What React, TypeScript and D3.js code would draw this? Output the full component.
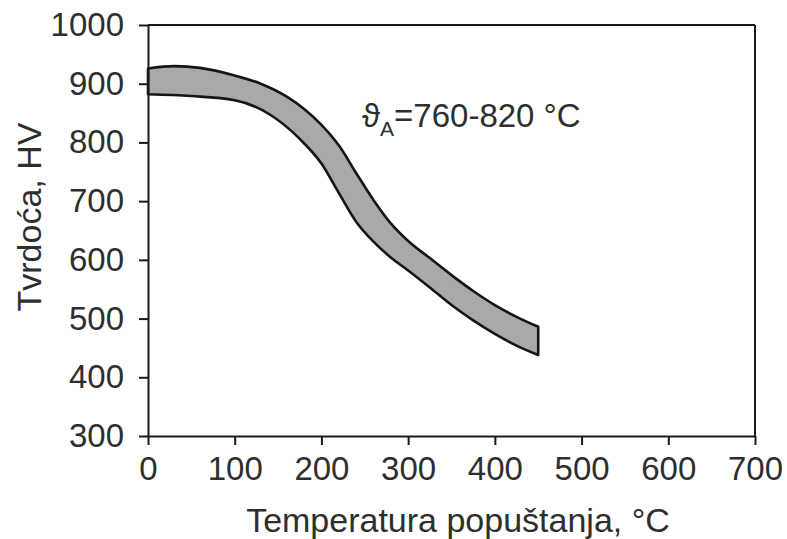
import React, { useEffect, useRef } from 'react';
import * as d3 from 'd3';

// Tempering temperature (°C) and hardness band limits (HV)
const upperTemp = [0, 30, 60, 100, 130, 160, 180, 200, 220, 240, 260, 280, 300, 325, 350, 375, 400, 425, 450];
const upperHV = [926, 930, 927, 914, 900, 878, 857, 830, 795, 748, 702, 662, 632, 603, 574, 547, 523, 503, 486];
const lowerTemp = [0, 50, 100, 140, 175, 200, 220, 240, 260, 280, 300, 325, 350, 375, 400, 425, 450];
const lowerHV = [882, 879, 872, 848, 806, 764, 714, 665, 631, 604, 582, 553, 523, 497, 474, 454, 438];

const xTicks = [0, 100, 200, 300, 400, 500, 600, 700];
const yTicks = [300, 400, 500, 600, 700, 800, 900, 1000];

const W = 787;
const H = 539;
const margin = { top: 25, right: 32, bottom: 103, left: 148 };
const FONT = 'Liberation Sans, Arial, Helvetica, sans-serif';

export default function App() {
  const svgRef = useRef<SVGSVGElement>(null);

  useEffect(() => {
    document.body.style.margin = '0';
    if (!svgRef.current) return;
    const svg = d3.select(svgRef.current);
    svg.selectAll('*').remove();

    const width = W - margin.left - margin.right;
    const height = H - margin.top - margin.bottom;

    const x = d3.scaleLinear().domain([0, 700]).range([0, width]);
    const y = d3.scaleLinear().domain([300, 1000]).range([height, 0]);

    const g = svg.append('g').attr('transform', `translate(${margin.left},${margin.top})`);

    // band: upper curve forward, lower curve back
    const upperPts = upperTemp.map((t, i) => [x(t), y(upperHV[i])] as [number, number]);
    const lowerPts = lowerTemp.map((t, i) => [x(t), y(lowerHV[i])] as [number, number]);
    const line = d3.line().curve(d3.curveMonotoneX);
    const upperPath = line(upperPts) || '';
    const lowerRev = line(lowerPts.slice().reverse()) || '';
    const bandPath = upperPath + 'L' + lowerRev.slice(1) + 'Z';

    g.append('path')
      .attr('d', bandPath)
      .attr('fill', '#a9a9a9')
      .attr('stroke', '#151515')
      .attr('stroke-width', 2.6)
      .attr('stroke-linejoin', 'round');

    // frame top & right
    g.append('line').attr('x1', 0).attr('x2', width).attr('y1', 0).attr('y2', 0)
      .attr('stroke', '#1a1a1a').attr('stroke-width', 2);
    g.append('line').attr('x1', width).attr('x2', width).attr('y1', 0).attr('y2', height)
      .attr('stroke', '#1a1a1a').attr('stroke-width', 2);

    const xAxis = d3.axisBottom(x).tickValues(xTicks).tickSize(9).tickSizeOuter(0).tickPadding(12).tickFormat(d => `${d}`);
    const yAxis = d3.axisLeft(y).tickValues(yTicks).tickSize(9).tickSizeOuter(0).tickPadding(15).tickFormat(d => `${d}`);

    const gx = g.append('g').attr('transform', `translate(0,${height})`).call(xAxis);
    const gy = g.append('g').call(yAxis);

    [gx, gy].forEach(ax => {
      ax.select('.domain').attr('stroke', '#1a1a1a').attr('stroke-width', 2);
      ax.selectAll('.tick line').attr('stroke', '#1a1a1a').attr('stroke-width', 2);
      ax.selectAll('.tick text')
        .attr('fill', '#2e2e2e')
        .style('font-family', FONT)
        .style('font-size', '33px');
    });

    // axis titles
    svg.append('text')
      .attr('x', 458)
      .attr('y', 532)
      .attr('text-anchor', 'middle')
      .attr('fill', '#2e2e2e')
      .style('font-family', FONT)
      .style('font-size', '34px')
      .text('Temperatura popuštanja, °C');

    svg.append('text')
      .attr('transform', `translate(41,217) rotate(-90)`)
      .attr('text-anchor', 'middle')
      .attr('fill', '#2e2e2e')
      .style('font-family', FONT)
      .style('font-size', '34px')
      .text('Tvrdoća, HV');

    // annotation
    const ann = svg.append('text')
      .attr('x', 362)
      .attr('y', 127)
      .attr('fill', '#2e2e2e')
      .style('font-family', FONT)
      .style('font-size', '33px');
    ann.append('tspan').text('ϑ');
    ann.append('tspan').attr('dy', 9).style('font-size', '21px').text('A');
    ann.append('tspan').attr('dy', -9).text('=760-820 °C');
  }, []);

  return <svg ref={svgRef} width={W} height={H} style={{ display: 'block', background: '#fff' }} />;
}
